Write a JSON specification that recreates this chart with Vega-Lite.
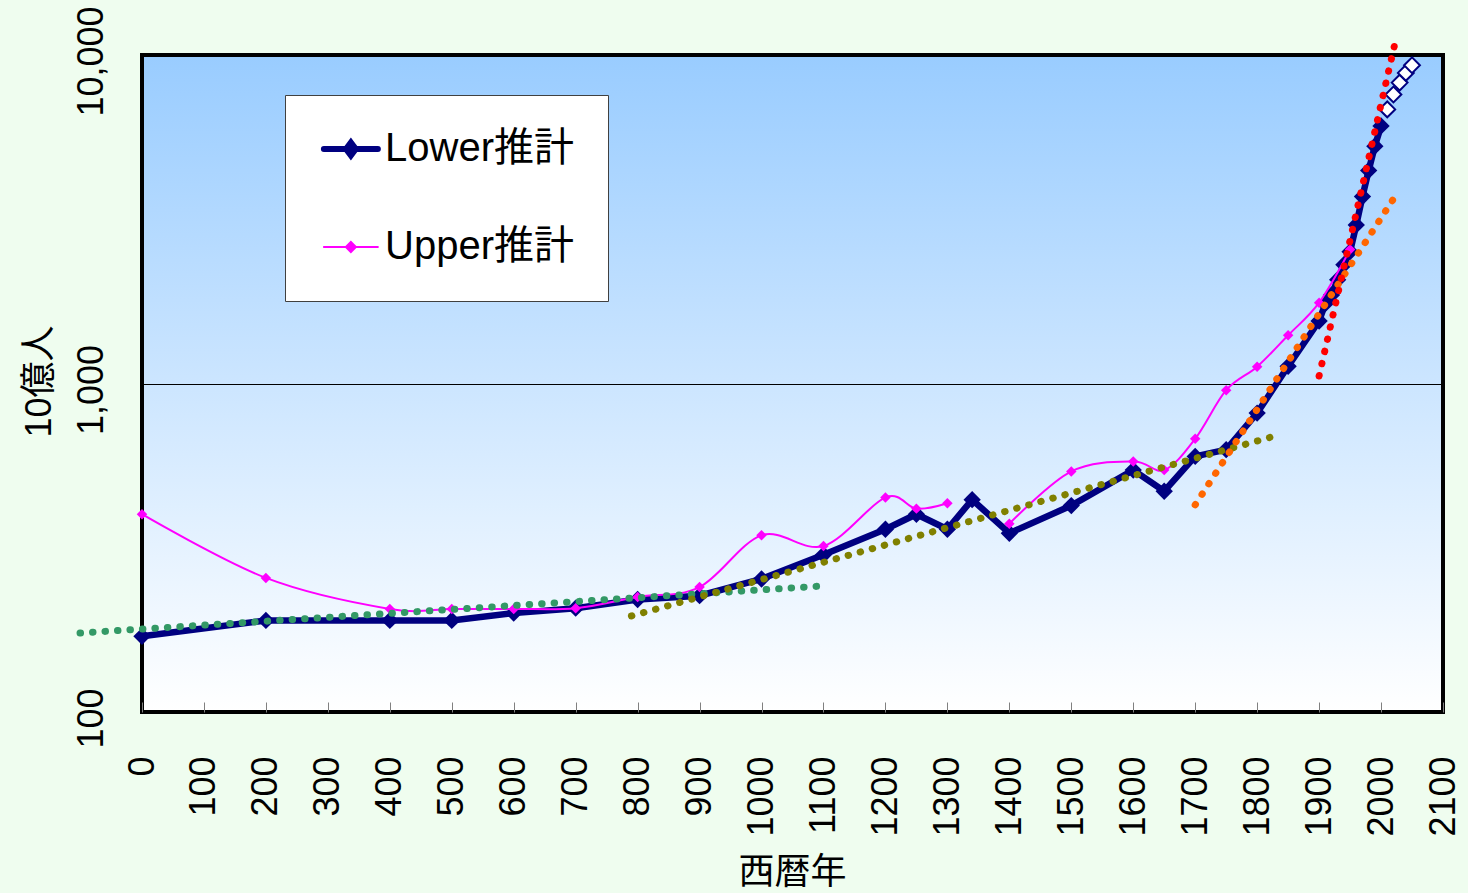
{
  "$schema": "https://vega.github.io/schema/vega-lite/v6.json",
  "width": 1301,
  "height": 657,
  "autosize": {"type": "none"},
  "padding": {"left": 142, "top": 55, "right": 25, "bottom": 181},
  "background": "#EFFDEF",
  "config": {
    "view": {
      "fill": {"gradient": "linear", "x1": 0, "y1": 0, "x2": 0, "y2": 1,
        "stops": [{"offset": 0, "color": "#99CCFF"}, {"offset": 1, "color": "#FFFFFF"}]},
      "stroke": "#000000",
      "strokeWidth": 4
    },
    "font": "Liberation Sans, Noto Sans CJK JP"
  },
  "data": {
    "values": [
      {"year": 0, "value": 170, "series": "Lower推計"},
      {"year": 200, "value": 190, "series": "Lower推計"},
      {"year": 400, "value": 190, "series": "Lower推計"},
      {"year": 500, "value": 190, "series": "Lower推計"},
      {"year": 600, "value": 200, "series": "Lower推計"},
      {"year": 700, "value": 207, "series": "Lower推計"},
      {"year": 800, "value": 220, "series": "Lower推計"},
      {"year": 900, "value": 226, "series": "Lower推計"},
      {"year": 1000, "value": 254, "series": "Lower推計"},
      {"year": 1100, "value": 301, "series": "Lower推計"},
      {"year": 1200, "value": 360, "series": "Lower推計"},
      {"year": 1250, "value": 400, "series": "Lower推計"},
      {"year": 1300, "value": 360, "series": "Lower推計"},
      {"year": 1340, "value": 443, "series": "Lower推計"},
      {"year": 1400, "value": 350, "series": "Lower推計"},
      {"year": 1500, "value": 425, "series": "Lower推計"},
      {"year": 1600, "value": 545, "series": "Lower推計"},
      {"year": 1650, "value": 470, "series": "Lower推計"},
      {"year": 1700, "value": 600, "series": "Lower推計"},
      {"year": 1750, "value": 629, "series": "Lower推計"},
      {"year": 1800, "value": 813, "series": "Lower推計"},
      {"year": 1850, "value": 1128, "series": "Lower推計"},
      {"year": 1900, "value": 1550, "series": "Lower推計"},
      {"year": 1910, "value": 1750, "series": "Lower推計"},
      {"year": 1920, "value": 1860, "series": "Lower推計"},
      {"year": 1930, "value": 2070, "series": "Lower推計"},
      {"year": 1940, "value": 2300, "series": "Lower推計"},
      {"year": 1950, "value": 2519, "series": "Lower推計"},
      {"year": 1960, "value": 3039, "series": "Lower推計"},
      {"year": 1970, "value": 3707, "series": "Lower推計"},
      {"year": 1980, "value": 4454, "series": "Lower推計"},
      {"year": 1990, "value": 5278, "series": "Lower推計"},
      {"year": 2000, "value": 6082, "series": "Lower推計"},
      {"year": 0, "value": 400, "series": "Upper推計"},
      {"year": 200, "value": 256, "series": "Upper推計"},
      {"year": 400, "value": 206, "series": "Upper推計"},
      {"year": 500, "value": 206, "series": "Upper推計"},
      {"year": 600, "value": 206, "series": "Upper推計"},
      {"year": 700, "value": 207, "series": "Upper推計"},
      {"year": 800, "value": 224, "series": "Upper推計"},
      {"year": 900, "value": 240, "series": "Upper推計"},
      {"year": 1000, "value": 345, "series": "Upper推計"},
      {"year": 1100, "value": 320, "series": "Upper推計"},
      {"year": 1200, "value": 450, "series": "Upper推計"},
      {"year": 1250, "value": 416, "series": "Upper推計"},
      {"year": 1300, "value": 432, "series": "Upper推計"},
      {"year": 1340, "value": null, "series": "Upper推計"},
      {"year": 1400, "value": 374, "series": "Upper推計"},
      {"year": 1500, "value": 540, "series": "Upper推計"},
      {"year": 1600, "value": 579, "series": "Upper推計"},
      {"year": 1650, "value": 545, "series": "Upper推計"},
      {"year": 1700, "value": 679, "series": "Upper推計"},
      {"year": 1750, "value": 954, "series": "Upper推計"},
      {"year": 1800, "value": 1125, "series": "Upper推計"},
      {"year": 1850, "value": 1402, "series": "Upper推計"},
      {"year": 1900, "value": 1762, "series": "Upper推計"},
      {"year": 1950, "value": 2556, "series": "Upper推計"},
      {"year": 2010, "value": 6830, "series": "projection"},
      {"year": 2020, "value": 7580, "series": "projection"},
      {"year": 2030, "value": 8240, "series": "projection"},
      {"year": 2040, "value": 8820, "series": "projection"},
      {"year": 2050, "value": 9310, "series": "projection"},
      {"year": -100, "value": 174, "series": "trendGreen"},
      {"year": 1100, "value": 242, "series": "trendGreen"},
      {"year": 790, "value": 196, "series": "trendOlive"},
      {"year": 1830, "value": 693, "series": "trendOlive"},
      {"year": 1700, "value": 427, "series": "trendOrange"},
      {"year": 2020, "value": 3645, "series": "trendOrange"},
      {"year": 1900, "value": 1054, "series": "trendRed"},
      {"year": 2025, "value": 11400, "series": "trendRed"}
    ]
  },
  "encoding": {
    "x": {
      "field": "year", "type": "quantitative",
      "scale": {"domain": [0, 2100], "nice": false, "zero": false},
      "axis": {
        "title": "西暦年",
        "values": [0, 100, 200, 300, 400, 500, 600, 700, 800, 900, 1000, 1100, 1200, 1300, 1400, 1500, 1600, 1700, 1800, 1900, 2000, 2100],
        "format": "d",
        "labelAngle": -90, "labelAlign": "right", "labelBaseline": "middle",
        "labelFontSize": 36, "labelColor": "#000000", "labelPadding": 54,
        "labelFlush": false, "labelOverlap": false, "labelBound": false,
        "tickSize": -10, "tickColor": "#808080", "tickWidth": 1,
        "domain": false, "grid": false,
        "titleFontSize": 36, "titleFont": "Noto Sans CJK JP", "titleFontWeight": "normal", "titleColor": "#000000",
        "titleAlign": "center", "titleBaseline": "top", "titleX": 650, "titleY": 143
      }
    },
    "y": {
      "field": "value", "type": "quantitative",
      "scale": {"type": "log", "domain": [100, 10000], "nice": false},
      "axis": {
        "title": "10億人",
        "values": [100, 1000, 10000],
        "format": ",",
        "labelAngle": -90, "labelAlign": "center", "labelBaseline": "alphabetic",
        "labelFontSize": 36, "labelColor": "#000000", "labelPadding": 40, "labelOffset": 6,
        "labelFlush": false, "labelOverlap": false, "labelBound": false,
        "ticks": false, "domain": false,
        "grid": true, "gridColor": "#000000", "gridWidth": 1, "gridOpacity": 1,
        "titleAngle": -90, "titleAlign": "center", "titleBaseline": "alphabetic",
        "titleX": -92, "titleY": 326,
        "titleFontSize": 36, "titleFontWeight": "normal", "titleColor": "#000000"
      }
    }
  },
  "layer": [
    {
      "transform": [{"filter": "datum.series === 'Lower推計'"}],
      "mark": {"type": "line", "strokeWidth": 6.5, "clip": false,
        "point": {"shape": "diamond", "size": 300, "filled": true, "opacity": 1}},
      "encoding": {
        "color": {
          "field": "series", "type": "nominal",
          "scale": {"domain": ["Lower推計", "Upper推計"], "range": ["#000080", "#FF00FF"]},
          "legend": {
            "title": null, "orient": "none", "legendX": 143, "legendY": 40, "direction": "vertical",
            "fillColor": "#FFFFFF", "strokeColor": "#404040", "padding": 34, "rowPadding": 58,
            "labelFontSize": 40, "labelColor": "#000000", "labelOffset": 26, "labelLimit": 400,
            "symbolSize": 2916, "symbolType": "M-1,0L1,0", "symbolStrokeWidth": 4,
            "encode": {
              "symbols": {
                "update": {
                  "shape": {"signal": "datum.value === 'Lower推計' ? 'M-0.56,0L1.44,0M0.26,0L0.44,-0.24L0.62,0L0.44,0.24Z' : 'M-0.56,0L1.44,0M0.255,0L0.44,-0.185L0.625,0L0.44,0.185Z'"},
                  "strokeWidth": {"signal": "datum.value === 'Lower推計' ? 6 : 2"},
                  "fill": {"signal": "datum.value === 'Lower推計' ? '#000080' : '#FF00FF'"},
                  "stroke": {"signal": "datum.value === 'Lower推計' ? '#000080' : '#FF00FF'"},
                  "strokeCap": {"value": "round"},
                  "opacity": {"value": 1},
                  "fillOpacity": {"value": 1},
                  "strokeOpacity": {"value": 1}
                }
              }
            }
          }
        }
      }
    },
    {
      "transform": [{"filter": "datum.series === 'Upper推計'"}],
      "mark": {"type": "line", "strokeWidth": 2, "interpolate": "cardinal", "clip": false,
        "invalid": "break-paths-show-domains",
        "point": {"shape": "diamond", "size": 110, "filled": true, "opacity": 1}},
      "encoding": {
        "color": {"field": "series", "type": "nominal"}
      }
    },
    {
      "transform": [{"filter": "datum.series === 'projection'"}],
      "mark": {"type": "point", "shape": "diamond", "size": 250, "filled": true, "fill": "#FFFFFF", "stroke": "#000080", "strokeWidth": 2, "opacity": 1, "clip": false},
      "encoding": {}
    },
    {
      "transform": [{"filter": "datum.series === 'trendGreen'"}],
      "mark": {"type": "line", "color": "#339966", "strokeWidth": 7, "strokeDash": [0.5, 12], "strokeCap": "round", "clip": false},
      "encoding": {}
    },
    {
      "transform": [{"filter": "datum.series === 'trendOlive'"}],
      "mark": {"type": "line", "color": "#808000", "strokeWidth": 7, "strokeDash": [0.5, 12], "strokeCap": "round", "clip": false},
      "encoding": {}
    },
    {
      "transform": [{"filter": "datum.series === 'trendOrange'"}],
      "mark": {"type": "line", "color": "#FF6600", "strokeWidth": 7, "strokeDash": [0.5, 12], "strokeCap": "round", "clip": false},
      "encoding": {}
    },
    {
      "transform": [{"filter": "datum.series === 'trendRed'"}],
      "mark": {"type": "line", "color": "#FF0000", "strokeWidth": 7, "strokeDash": [0.5, 12], "strokeCap": "round", "clip": false},
      "encoding": {}
    }
  ]
}
